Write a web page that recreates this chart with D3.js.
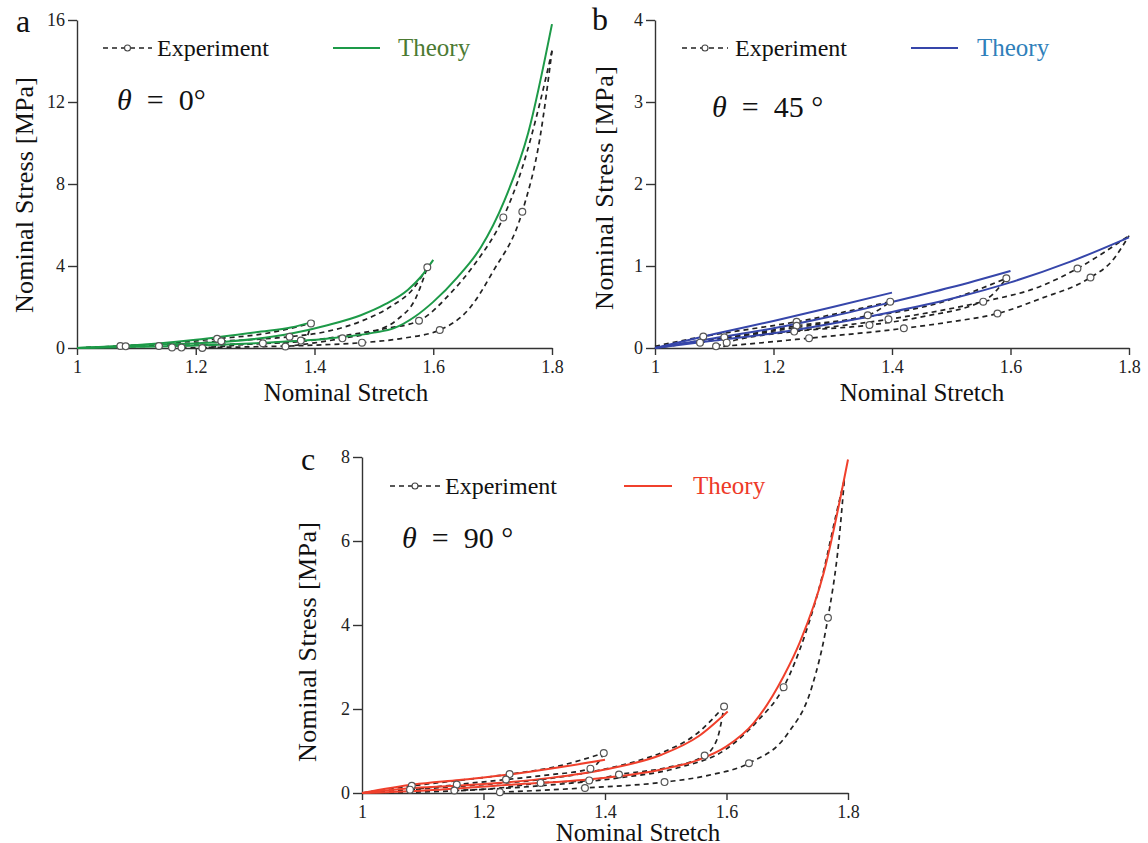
<!DOCTYPE html>
<html>
<head>
<meta charset="utf-8">
<script src="https://cdn.jsdelivr.net/npm/d3@7/dist/d3.min.js"></script>
<style>
  body { margin: 0; background: #fff; }
  svg { display: block; font-family: "Liberation Serif", "DejaVu Serif", serif; }
  .tick text { font-size: 18px; fill: #222; }
</style>
</head>
<body>
<svg id="chart" width="1148" height="843"></svg>
<script>
// axis ticks
const stretchTicks = [1, 1.2, 1.4, 1.6, 1.8];
const stretchTickLabels = ["1", "1.2", "1.4", "1.6", "1.8"];
const stressTicksA = [0, 4, 8, 12, 16];
const stressTicksB = [0, 1, 2, 3, 4];
const stressTicksC = [0, 2, 4, 6, 8];

// panel a, theta = 0
const theoryA14 = [[1,0],[1.08,0.1],[1.2,0.4],[1.31,0.8],[1.36,1.0],[1.4,1.3]];
const theoryA16 = [[1,0],[1.1,0.13],[1.25,0.3],[1.365,0.73],[1.42,1.1],[1.478,1.6],[1.52,2.15],[1.557,2.83],[1.58,3.5],[1.6,4.3]];
const theoryA18 = [[1,0],[1.1,0.06],[1.2,0.12],[1.31,0.25],[1.42,0.45],[1.5,0.75],[1.534,0.97],[1.57,1.55],[1.6,2.25],[1.641,3.46],[1.68,4.9],[1.72,7.2],[1.76,10.5],[1.8,15.8]];
const expA14Load = [[1,0],[1.073,0.1],[1.15,0.22],[1.236,0.45],[1.32,0.72],[1.394,1.2]];
const expA14Unload = [[1.211,0],[1.26,0.12],[1.313,0.23],[1.35,0.3],[1.377,0.36],[1.388,0.6],[1.394,1.2]];
const expA16Load = [[1,0],[1.082,0.08],[1.16,0.17],[1.243,0.33],[1.358,0.55],[1.42,0.8],[1.478,1.3],[1.53,2.05],[1.565,2.85],[1.59,3.94]];
const expA16Unload = [[1.351,0.07],[1.4,0.25],[1.447,0.47],[1.5,0.8],[1.54,1.4],[1.57,2.4],[1.59,3.94]];
const expA18Load = [[1,0],[1.138,0.1],[1.26,0.18],[1.37,0.3],[1.46,0.65],[1.52,0.95],[1.576,1.33],[1.63,2.7],[1.67,4.1],[1.718,6.37],[1.75,8.8],[1.78,12],[1.8,14.5]];
const expA18Unload = [[1.176,0.02],[1.3,0.06],[1.4,0.14],[1.48,0.26],[1.55,0.48],[1.611,0.88],[1.66,1.9],[1.7,3.7],[1.75,6.65],[1.78,10.3],[1.8,14.5]];
const circlesA = [[1.073,0.1],[1.082,0.08],[1.138,0.1],[1.16,0.03],[1.176,0.02],[1.211,0],[1.236,0.45],[1.243,0.33],[1.313,0.23],[1.351,0.07],[1.358,0.55],[1.377,0.36],[1.394,1.2],[1.447,0.47],[1.48,0.26],[1.576,1.33],[1.59,3.94],[1.611,0.88],[1.718,6.37],[1.75,6.65]];

// panel b, theta = 45
const theoryB14 = [[1,0],[1.1,0.17],[1.2,0.33],[1.3,0.5],[1.4,0.675]];
const theoryB16 = [[1,0],[1.1,0.12],[1.2,0.24],[1.3,0.39],[1.4,0.56],[1.5,0.74],[1.6,0.94]];
const theoryB18 = [[1,0],[1.1,0.09],[1.2,0.18],[1.3,0.3],[1.4,0.44],[1.5,0.6],[1.6,0.8],[1.7,1.05],[1.8,1.35]];
const expB14Load = [[1,0.02],[1.081,0.14],[1.16,0.23],[1.239,0.32],[1.32,0.44],[1.397,0.565]];
const expB14Unload = [[1.076,0.065],[1.12,0.12],[1.239,0.27],[1.359,0.4],[1.397,0.565]];
const expB16Load = [[1,0],[1.1,0.1],[1.24,0.25],[1.36,0.38],[1.48,0.55],[1.593,0.85]];
const expB16Unload = [[1.103,0.02],[1.121,0.065],[1.235,0.2],[1.362,0.28],[1.45,0.38],[1.56,0.6],[1.593,0.85]];
const expB18Load = [[1,0],[1.117,0.13],[1.25,0.22],[1.394,0.35],[1.554,0.565],[1.65,0.75],[1.713,0.97],[1.8,1.37]];
const expB18Unload = [[1.1,0.01],[1.26,0.12],[1.42,0.24],[1.5,0.32],[1.578,0.42],[1.65,0.6],[1.735,0.86],[1.77,1.05],[1.8,1.37]];
const circlesB = [[1.0815,0.14],[1.076,0.065],[1.117,0.13],[1.121,0.065],[1.103,0.02],[1.239,0.32],[1.239,0.27],[1.235,0.2],[1.26,0.12],[1.359,0.4],[1.362,0.28],[1.394,0.35],[1.397,0.565],[1.42,0.24],[1.554,0.565],[1.578,0.42],[1.593,0.85],[1.713,0.97],[1.735,0.86]];

// panel c, theta = 90
const theoryC14 = [[1,0],[1.085,0.2],[1.16,0.31],[1.243,0.44],[1.32,0.6],[1.4,0.79]];
const theoryC16 = [[1,0],[1.085,0.12],[1.189,0.2],[1.31,0.36],[1.4,0.56],[1.493,0.91],[1.554,1.35],[1.602,1.94]];
const theoryC18 = [[1,0],[1.128,0.08],[1.25,0.2],[1.371,0.32],[1.493,0.56],[1.554,0.79],[1.6,1.11],[1.645,1.67],[1.694,2.78],[1.721,3.6],[1.76,5.24],[1.8,7.94]];
const expC14Load = [[1,0],[1.082,0.17],[1.16,0.3],[1.243,0.45],[1.32,0.63],[1.398,0.95]];
const expC14Unload = [[1.079,0.08],[1.156,0.2],[1.237,0.32],[1.3,0.42],[1.376,0.58],[1.39,0.75],[1.398,0.95]];
const expC16Load = [[1,0],[1.1,0.1],[1.2,0.2],[1.3,0.33],[1.376,0.5],[1.45,0.75],[1.5,1.0],[1.55,1.4],[1.596,2.06]];
const expC16Unload = [[1.152,0.06],[1.227,0.12],[1.294,0.24],[1.374,0.3],[1.423,0.44],[1.5,0.6],[1.564,0.89],[1.585,1.3],[1.596,2.06]];
const expC18Load = [[1,0],[1.15,0.05],[1.3,0.18],[1.423,0.36],[1.52,0.6],[1.6,1.05],[1.65,1.7],[1.694,2.52],[1.73,3.8],[1.76,5.3],[1.78,6.6],[1.794,7.46]];
const expC18Unload = [[1.227,0.02],[1.367,0.12],[1.498,0.26],[1.57,0.42],[1.637,0.71],[1.7,1.4],[1.74,2.5],[1.767,4.17],[1.785,6.0],[1.794,7.46]];
const circlesC = [[1.082,0.17],[1.079,0.08],[1.156,0.2],[1.152,0.06],[1.227,0.02],[1.243,0.45],[1.237,0.32],[1.294,0.24],[1.367,0.12],[1.374,0.3],[1.376,0.58],[1.398,0.95],[1.423,0.44],[1.498,0.26],[1.564,0.89],[1.596,2.06],[1.637,0.71],[1.694,2.52],[1.767,4.17]];

const svg = d3.select("#chart");

const panels = [
  {
    letter: "a", letterPos: [16, 32],
    x0: 77, x1: 552, y0: 348, y1: 20, ymax: 16, yTicks: stressTicksA,
    theory: [theoryA14, theoryA16, theoryA18],
    exp: [expA14Load, expA14Unload, expA16Load, expA16Unload, expA18Load, expA18Unload],
    circles: circlesA,
    lineColor: "#1d9a48", textColor: "#4c7a32",
    legend: { y: 48, dash: [103, 152], expText: 157, line: [333, 380], theoryText: 398 },
    theta: { x: 117, y: 110, text: "0°" },
    xTitle: [346, 401], yTitle: [24, 195, 236, 26]
  },
  {
    letter: "b", letterPos: [592, 30],
    x0: 655, x1: 1129, y0: 348, y1: 20, ymax: 4, yTicks: stressTicksB,
    theory: [theoryB14, theoryB16, theoryB18],
    exp: [expB14Load, expB14Unload, expB16Load, expB16Unload, expB18Load, expB18Unload],
    circles: circlesB,
    lineColor: "#3646aa", textColor: "#2f80ba",
    legend: { y: 48, dash: [682, 728], expText: 735, line: [911, 958], theoryText: 977 },
    theta: { x: 712, y: 117, text: "45 °" },
    xTitle: [922, 401], yTitle: [604, 188, 244, 26]
  },
  {
    letter: "c", letterPos: [301, 470],
    x0: 362, x1: 848, y0: 793, y1: 457, ymax: 8, yTicks: stressTicksC,
    theory: [theoryC14, theoryC16, theoryC18],
    exp: [expC14Load, expC14Unload, expC16Load, expC16Unload, expC18Load, expC18Unload],
    circles: circlesC,
    lineColor: "#f0402c", textColor: "#ee3a28",
    legend: { y: 486, dash: [390, 440], expText: 445, line: [624, 672], theoryText: 693 },
    theta: { x: 402, y: 548, text: "90 °" },
    xTitle: [638, 841], yTitle: [307, 642, 240, 26]
  }
];

panels.forEach(drawPanel);

function drawPanel(p) {
  const x = d3.scaleLinear().domain([1, 1.8]).range([p.x0, p.x1]);
  const y = d3.scaleLinear().domain([0, p.ymax]).range([p.y0, p.y1]);
  const g = svg.append("g");

  const line = d3.line()
    .x(d => x(d[0]))
    .y(d => y(d[1]))
    .curve(d3.curveMonotoneX);
  const sorted = pts => pts.slice().sort((a, b) => a[0] - b[0]);

  // axes
  const xAxis = g.append("g")
    .attr("transform", `translate(0,${p.y0})`)
    .call(d3.axisBottom(x).tickValues(stretchTicks)
      .tickFormat((d, i) => stretchTickLabels[i]).tickSize(7).tickPadding(5).tickSizeOuter(0));
  const yAxis = g.append("g")
    .attr("transform", `translate(${p.x0},0)`)
    .call(d3.axisLeft(y).tickValues(p.yTicks).tickFormat(d3.format("d"))
      .tickSize(9).tickPadding(3).tickSizeOuter(0));
  [xAxis, yAxis].forEach(a => {
    a.selectAll("path, line").attr("stroke", "#333").attr("stroke-width", 1.4);
    a.selectAll("text").style("font-family", "Liberation Serif");
  });

  // experiment curves
  g.append("g").selectAll("path")
    .data(p.exp)
    .join("path")
    .attr("d", d => line(sorted(d)))
    .attr("fill", "none")
    .attr("stroke", "#222")
    .attr("stroke-width", 1.7)
    .attr("stroke-dasharray", "5,4");

  // theory curves
  g.append("g").selectAll("path")
    .data(p.theory)
    .join("path")
    .attr("d", d => line(d))
    .attr("fill", "none")
    .attr("stroke", p.lineColor)
    .attr("stroke-width", 2);

  g.append("g").selectAll("circle")
    .data(p.circles)
    .join("circle")
    .attr("cx", d => x(d[0]))
    .attr("cy", d => y(d[1]))
    .attr("r", 3.4)
    .attr("fill", "#fff")
    .attr("stroke", "#555")
    .attr("stroke-width", 1.2);

  // legend
  const L = p.legend;
  g.append("line")
    .attr("x1", L.dash[0]).attr("x2", L.dash[1])
    .attr("y1", L.y).attr("y2", L.y)
    .attr("stroke", "#222").attr("stroke-width", 1.5)
    .attr("stroke-dasharray", "5,4");
  g.append("circle")
    .attr("cx", (L.dash[0] + L.dash[1]) / 2).attr("cy", L.y).attr("r", 3)
    .attr("fill", "#fff").attr("stroke", "#444").attr("stroke-width", 1.1);
  g.append("text")
    .attr("x", L.expText).attr("y", L.y + 8)
    .attr("font-size", 24).attr("fill", "#111")
    .text("Experiment");
  g.append("line")
    .attr("x1", L.line[0]).attr("x2", L.line[1])
    .attr("y1", L.y).attr("y2", L.y)
    .attr("stroke", p.lineColor).attr("stroke-width", 2);
  g.append("text")
    .attr("x", L.theoryText).attr("y", L.y + 8)
    .attr("font-size", 25).attr("fill", p.textColor)
    .text("Theory");

  // theta annotation
  const t = g.append("text")
    .attr("x", p.theta.x).attr("y", p.theta.y)
    .attr("font-size", 30).attr("fill", "#111")
    .style("white-space", "pre");
  t.append("tspan").attr("font-style", "italic").text("θ");
  t.append("tspan").text("  =  " + p.theta.text);

  // titles
  g.append("text")
    .attr("x", p.xTitle[0]).attr("y", p.xTitle[1])
    .attr("text-anchor", "middle").attr("font-size", 25).attr("fill", "#111")
    .text("Nominal Stretch");
  const [tx, ty, tlen, tsize] = p.yTitle;
  g.append("text")
    .attr("transform", `translate(${tx},${ty}) rotate(-90)`)
    .attr("x", -tlen / 2)
    .attr("dy", "0.35em")
    .attr("font-size", tsize).attr("fill", "#111")
    .attr("textLength", tlen).attr("lengthAdjust", "spacing")
    .text("Nominal Stress [MPa]");
  g.append("text")
    .attr("x", p.letterPos[0]).attr("y", p.letterPos[1])
    .attr("font-size", 32).attr("fill", "#111")
    .text(p.letter);
}
</script>
</body>
</html>
